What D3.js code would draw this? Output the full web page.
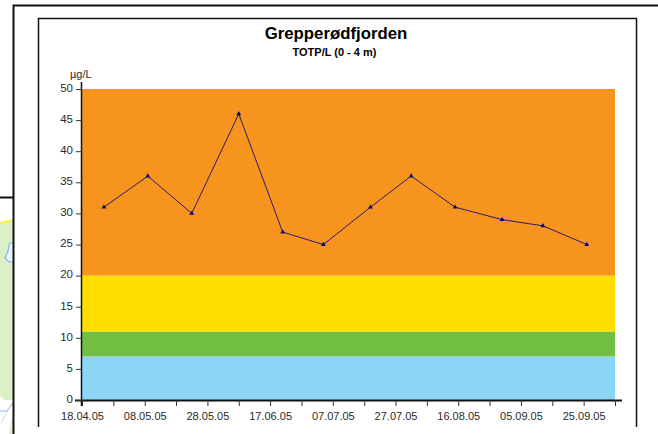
<!DOCTYPE html>
<meta charset="utf-8">
<style>
html, body { margin: 0; padding: 0; background: #fff; }
svg { display: block; }
text { font-family: "Liberation Sans", Arial, sans-serif; fill: #2a2a2a; }
</style>
<script src="https://d3js.org/d3.v7.min.js"></script>
<div id="chart"></div>
<script>
// sampling dates and TOTP values
var dates = ["25.04.05", "09.05.05", "23.05.05", "07.06.05", "21.06.05", "04.07.05", "19.07.05", "01.08.05", "15.08.05", "30.08.05", "12.09.05", "26.09.05"];
var values = [31, 36, 30, 46, 27, 25, 31, 36, 31, 29, 28, 25];

// background classes
var bandLower = [0, 7, 11, 20];
var bandUpper = [7, 11, 20, 50];
var bandColors = ["#8bd6f7", "#72bf44", "#ffde00", "#f7941e"];

var yTicks = [0, 5, 10, 15, 20, 25, 30, 35, 40, 45, 50];
var xStart = "18.04.05", xEnd = "05.10.05";

var parse = d3.timeParse("%d.%m.%y");
var fmt = d3.timeFormat("%d.%m.%y");

var W = 658, H = 434;
var svg = d3.select("#chart").append("svg").attr("width", W).attr("height", H);

// scraps of the neighbouring map panel in the screenshot
var map = svg.append("g");
map.append("path").attr("fill", "#dcf0c8").attr("d", "M0,222L13,219V434H9L13,408V400L5,400L0,396Z");
map.append("path").attr("fill", "#dcf0c8").attr("d", "M9,434L13,418V434Z");
map.append("path").attr("fill", "none").attr("stroke", "#ffee44").attr("stroke-width", 2).attr("d", "M0,223.5L13,220");
map.append("path").attr("fill", "#e8f6ff").attr("stroke", "#7fb2f5").attr("stroke-width", 1.2)
  .attr("d", "M13,243H9.5L8,251L5,258L9,262H13");
map.append("path").attr("fill", "none").attr("stroke", "#7fb2f5").attr("stroke-width", 1.2).attr("d", "M0,411H7L13,403");
map.append("path").attr("fill", "none").attr("stroke", "#d8d8d8").attr("stroke-width", 1).attr("d", "M1,423L11,405");

var frame = svg.append("g").attr("fill", "none").attr("stroke", "#111");
frame.append("path").attr("stroke-width", 2).attr("d", "M0,197.5H13.5M13.5,434V5.5H658");
frame.append("path").attr("stroke-width", 1.5).attr("d", "M38.5,427V18.5H636.5V427");

var x = d3.scaleTime().domain([parse(xStart), parse(xEnd)]).range([82, 615]);
var y = d3.scaleLinear().domain([0, 50]).range([400, 89]);

// bands
svg.append("g").selectAll("rect")
  .data(bandLower)
  .enter().append("rect")
  .attr("x", x.range()[0])
  .attr("width", x.range()[1] - x.range()[0])
  .attr("y", function(d, i) { return y(bandUpper[i]); })
  .attr("height", function(d, i) { return y(d) - y(bandUpper[i]); })
  .attr("fill", function(d, i) { return bandColors[i]; });

// axes
var xTicks = d3.timeDay.range(parse(xStart), d3.timeDay.offset(parse(xEnd), 1), 10);
var xAxis = svg.append("g")
  .attr("transform", "translate(0,400)")
  .call(d3.axisBottom(x).tickValues(xTicks).tickSize(6).tickPadding(6)
    .tickFormat(function(d, i) { return i % 2 == 0 && i < 18 ? fmt(d) : ""; }));
xAxis.select(".domain").attr("d", "M75,0.5H622").attr("stroke-width", 2).attr("stroke", "#111");
xAxis.selectAll("line").attr("stroke", "#333");
xAxis.selectAll("text").attr("font-size", 11);

var yAxis = svg.append("g")
  .attr("transform", "translate(82,0)")
  .call(d3.axisLeft(y).tickValues(yTicks).tickSize(6).tickPadding(3));
yAxis.select(".domain").attr("d", "M-0.5,82V406").attr("stroke-width", 1.5).attr("stroke", "#111");
yAxis.selectAll("line").attr("stroke", "#333");
yAxis.selectAll("text").attr("font-size", 11.5).attr("dy", "0.2em");

// line and markers
var line = d3.line()
  .x(function(d, i) { return x(parse(dates[i])); })
  .y(function(d) { return y(d); });

svg.append("path")
  .datum(values)
  .attr("d", line)
  .attr("fill", "none")
  .attr("stroke", "#2a1a6a")
  .attr("stroke-width", 1);

svg.append("g").selectAll("path")
  .data(values)
  .enter().append("path")
  .attr("d", d3.symbol().type(d3.symbolTriangle).size(10))
  .attr("transform", function(d, i) { return "translate(" + x(parse(dates[i])) + "," + y(d) + ")"; })
  .attr("fill", "#000080");

// titles
svg.append("text").attr("x", 336).attr("y", 39).attr("text-anchor", "middle")
  .attr("font-size", 16.8).attr("font-weight", "bold").style("fill", "#000").text("Grepperødfjorden");
svg.append("text").attr("x", 334.5).attr("y", 56).attr("text-anchor", "middle")
  .attr("font-size", 11).attr("font-weight", "bold").style("fill", "#000").text("TOTP/L (0 - 4 m)");
svg.append("text").attr("x", 70).attr("y", 78).attr("font-size", 11).text("µg/L");
</script>
